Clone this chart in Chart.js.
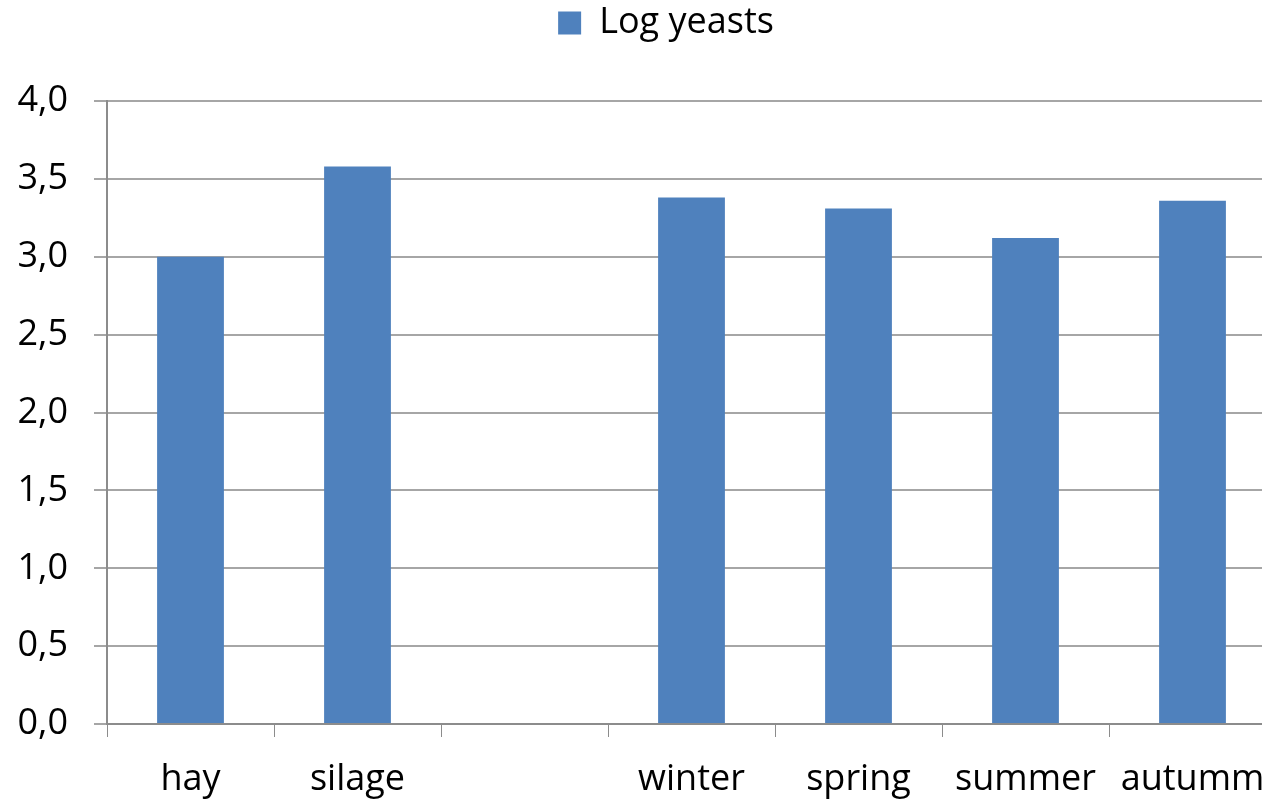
<!DOCTYPE html>
<html>
<head>
<meta charset="utf-8">
<script src="https://cdn.jsdelivr.net/npm/chart.js@4"></script>
<style>
  html, body { margin: 0; padding: 0; background: #fff; overflow: hidden; }
  #wrap { width: 1330px; height: 801px; }
</style>
</head>
<body>
<div id="wrap"><canvas id="chart" width="1330" height="801"></canvas></div>
<script>
// data
const categories = ["hay", "silage", "", "winter", "spring", "summer", "autumm"];
const logYeasts = [3.0, 3.58, null, 3.38, 3.31, 3.12, 3.36];
const seriesLabel = "Log yeasts";

const BAR_COLOR = "#4f81bd";
const GRID_COLOR = "#a6a6a6";
const AXIS_COLOR = "#8c8c8c";

Chart.defaults.font.family = "'Open Sans', Lato, sans-serif";
Chart.defaults.font.size = 36;
Chart.defaults.color = "#000";

const fmt = v => v.toFixed(1).replace(".", ",");

// fix the legend height so the plot starts where it does in the picture,
// and nudge it right so it is centred like the original
const legendPlace = {
  id: "legendPlace",
  beforeInit(chart) {
    const orig = chart.legend.fit;
    chart.legend.fit = function () {
      orig.call(this);
      this.height = 101;
    };
  },
  afterLayout(chart) {
    chart.legend.left += 28;
    chart.legend.right += 28;
  }
};

new Chart(document.getElementById("chart"), {
  type: "bar",
  data: {
    labels: categories,
    datasets: [{
      label: seriesLabel,
      data: logYeasts,
      backgroundColor: BAR_COLOR,
      barPercentage: 0.4,
      categoryPercentage: 1.0
    }]
  },
  plugins: [legendPlace],
  options: {
    responsive: false,
    animation: false,
    layout: { padding: { left: 0, right: 54, top: 0, bottom: 0 } },
    plugins: {
      legend: {
        position: "top",
        labels: { boxWidth: 23, boxHeight: 23, padding: 5, font: { size: 36 } }
      },
      tooltip: { enabled: false }
    },
    scales: {
      x: {
        grid: { display: true, drawOnChartArea: false, drawTicks: true, tickLength: 13, color: AXIS_COLOR, offset: true },
        border: { color: AXIS_COLOR, width: 2 },
        ticks: { padding: 21, maxRotation: 0, autoSkip: false },
        afterFit: s => { s.height = 77; }
      },
      y: {
        min: 0,
        max: 4,
        grid: { color: GRID_COLOR, lineWidth: 2, tickLength: 13 },
        border: { color: AXIS_COLOR, width: 2 },
        ticks: { stepSize: 0.5, padding: 26, callback: v => fmt(v) },
        afterFit: s => { s.width = 107; }
      }
    }
  }
});
</script>
</body>
</html>
